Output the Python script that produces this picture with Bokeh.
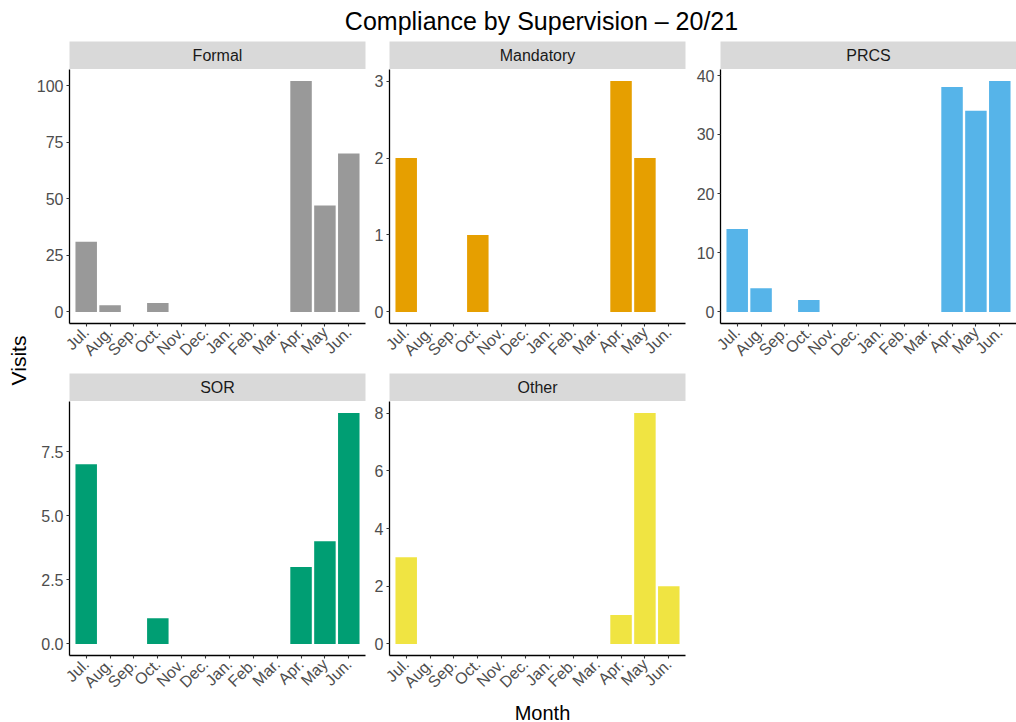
import math
from bokeh.plotting import figure
from bokeh.layouts import column, row
from bokeh.models import ColumnDataSource, FactorRange, Range1d, FixedTicker, NumeralTickFormatter
from bokeh.core.properties import value
from bokeh.embed import file_html
from bokeh.resources import INLINE

# ---------------- data ----------------
months = ["Jul.", "Aug.", "Sep.", "Oct.", "Nov.", "Dec.", "Jan.", "Feb.", "Mar.", "Apr.", "May", "Jun."]
formal = [31, 3, 0, 4, 0, 0, 0, 0, 0, 102, 47, 70]
mandatory = [2, 0, 0, 1, 0, 0, 0, 0, 0, 3, 2, 0]
prcs = [14, 4, 0, 2, 0, 0, 0, 0, 0, 38, 34, 39]
sor = [7, 0, 0, 1, 0, 0, 0, 0, 0, 3, 4, 9]
other = [3, 0, 0, 0, 0, 0, 0, 0, 0, 1, 8, 2]

panel_names = ["Formal", "Mandatory", "PRCS", "SOR", "Other"]
panel_colors = ["#999999", "#E69F00", "#56B4E9", "#009E73", "#F0E442"]
formal_ticks = [0, 25, 50, 75, 100]
mandatory_ticks = [0, 1, 2, 3]
prcs_ticks = [0, 10, 20, 30, 40]
sor_ticks = [0, 2.5, 5.0, 7.5]
other_ticks = [0, 2, 4, 6, 8]

title_text = "Compliance by Supervision \u2013 20/21"
x_title = "Month"
y_title = "Visits"

FONT = "Liberation Sans"
FRAME_W = 296
FRAME_H = 254
STRIP_H = 28
BOTTOMS = [50, 50, 50, 42, 42]
VIS_W = 29
TITLE_H = 41
MONTH_H = 24


def make_strip(name, left, right):
    s = figure(frame_width=FRAME_W, frame_height=STRIP_H, min_border_left=left,
               min_border_right=right, min_border_top=0, min_border_bottom=0,
               x_range=Range1d(0, 1), y_range=Range1d(0, 1),
               toolbar_location=None, output_backend="svg")
    s.axis.visible = False
    s.grid.visible = False
    s.outline_line_color = None
    s.background_fill_color = "#D9D9D9"
    s.border_fill_color = "white"
    s.text(x=[0.5], y=[0.5], text=[name], text_align="center", text_baseline="middle",
           text_font=value(FONT), text_font_size="16px", text_color="#1a1a1a")
    return s


def make_panel(name, vals, color, ticks, left, right, bottom, fmt=None):
    ymax = max(vals)
    p = figure(x_range=FactorRange(*months, range_padding=0.2, range_padding_units="absolute"),
               y_range=Range1d(-0.05 * ymax, 1.05 * ymax),
               frame_width=FRAME_W, frame_height=FRAME_H,
               min_border_left=left, min_border_right=right,
               min_border_top=0, min_border_bottom=bottom,
               toolbar_location=None, output_backend="svg")
    src = ColumnDataSource(dict(month=months, v=vals))
    p.vbar(x="month", top="v", bottom=0, width=0.9, source=src, fill_color=color, line_color=None)
    p.grid.visible = False
    p.outline_line_color = None
    p.background_fill_color = "white"
    p.border_fill_color = "white"
    p.yaxis.ticker = FixedTicker(ticks=ticks)
    if fmt:
        p.yaxis.formatter = NumeralTickFormatter(format=fmt)
    p.xaxis.major_label_orientation = math.pi / 4
    for ax in (p.xaxis[0], p.yaxis[0]):
        ax.axis_line_color = "black"
        ax.axis_line_width = 1.3
        ax.major_tick_line_color = "#333333"
        ax.major_tick_line_width = 1.1
        ax.major_tick_out = 3
        ax.major_tick_in = 0
        ax.minor_tick_out = 0
        ax.minor_tick_in = 0
        ax.major_label_standoff = 3
        ax.major_label_text_font = FONT
        ax.major_label_text_font_size = "16px"
        ax.major_label_text_color = "#4d4d4d"
    return p


series = [formal, mandatory, prcs, sor, other]
ticks_all = [formal_ticks, mandatory_ticks, prcs_ticks, sor_ticks, other_ticks]
fmts = [None, None, None, "0.0", None]
margins = [(40, 4), (20, 4), (31, 0), (40, 4), (20, 4)]

cells = []
for i in range(5):
    l, r = margins[i]
    strip = make_strip(panel_names[i], l, r)
    pan = make_panel(panel_names[i], series[i], panel_colors[i], ticks_all[i], l, r, BOTTOMS[i], fmts[i])
    cells.append(column(strip, pan, spacing=0))

grid = column(row(cells[0], cells[1], cells[2], spacing=0),
              row(cells[3], cells[4], spacing=0), spacing=0)

GRID_H = 2 * (STRIP_H + FRAME_H) + BOTTOMS[0] + BOTTOMS[3]


def blank(w, h, xr, yr):
    f = figure(width=w, height=h, x_range=Range1d(*xr), y_range=Range1d(*yr),
               min_border=0, toolbar_location=None, output_backend="svg")
    f.axis.visible = False
    f.grid.visible = False
    f.outline_line_color = None
    f.background_fill_color = "white"
    f.border_fill_color = "white"
    return f


TOTAL_W = 1015
title_fig = blank(TOTAL_W, TITLE_H, (0, TOTAL_W), (0, TITLE_H))
title_fig.text(x=[541], y=[TITLE_H - 20], text=[title_text], text_align="center", text_baseline="middle",
               text_font=value(FONT), text_font_size="25px", text_color="black")

visits_fig = blank(VIS_W, GRID_H, (0, VIS_W), (0, GRID_H))
visits_fig.text(x=[18], y=[GRID_H - 319], text=[y_title], angle=math.pi / 2, text_align="center",
                text_baseline="middle", text_font=value(FONT), text_font_size="21px", text_color="black")

month_fig = blank(TOTAL_W, MONTH_H, (0, TOTAL_W), (0, MONTH_H))
month_fig.text(x=[542], y=[11], text=[x_title], text_align="center", text_baseline="middle",
               text_font=value(FONT), text_font_size="20px", text_color="black")

root = column(title_fig, row(visits_fig, grid, spacing=0), month_fig, spacing=0)

with open("out.html", "w") as f:
    f.write(file_html(root, INLINE))
